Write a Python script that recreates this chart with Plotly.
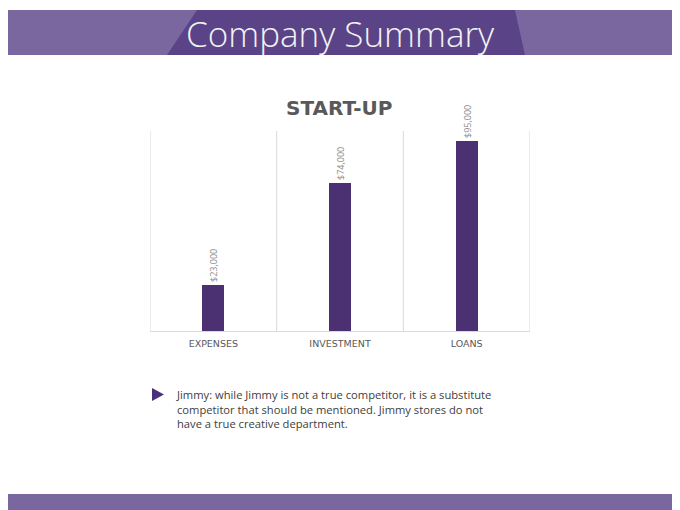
import plotly.graph_objects as go

# Start-up funding summary
CATEGORIES = ["EXPENSES", "INVESTMENT", "LOANS"]
VALUES = [23000, 74000, 95000]
Y_MAX = 100000

SLIDE_TITLE = "Company Summary"
CHART_TITLE = "START-UP"
NOTE = ("Jimmy: while Jimmy is not a true competitor, it is a substitute<br>"
        "competitor that should be mentioned. Jimmy stores do not<br>"
        "have a true creative department.")

W, H = 680, 510
OFF = 8  # the page sits 8px in from the window corner
# plot area in window pixels
L, R, T, B = 150, 530, 131, 331

BAND = "#7b67a0"
BAND_DARK = "#5b4387"
BAR = "#4b3172"
GRID = "#d9d9d9"


def px_x(px):
    return (px - L) / (R - L)


def px_y(py):
    return (B - py) / (B - T)


def path(points):
    pts = [f"{px_x(x):.4f},{px_y(y):.4f}" for x, y in points]
    return "M " + " L ".join(pts) + " Z"


fig = go.Figure()
fig.add_trace(go.Bar(
    x=CATEGORIES,
    y=VALUES,
    width=0.175,
    marker={"color": BAR, "line": {"width": 0}},
    text=[f"${v:,.0f}" for v in VALUES],
    textposition="outside",
    textangle=-90,
    constraintext="none",
    cliponaxis=False,
    textfont={"family": "Open Sans", "size": 9, "color": "#8c8c8c"},
    hoverinfo="skip",
))

shapes = [
    # header band + darker centre panel
    dict(type="rect", xref="paper", yref="paper",
         x0=px_x(-10), x1=px_x(W + 10), y0=px_y(55), y1=px_y(10),
         fillcolor=BAND, line_width=0, layer="below"),
    dict(type="path", xref="paper", yref="paper",
         path=path([(167, 55), (197, 10), (515, 10), (525, 55)]),
         fillcolor=BAND_DARK, line_width=0, layer="below"),
    # footer band
    dict(type="rect", xref="paper", yref="paper",
         x0=px_x(-10), x1=px_x(W + 10), y0=px_y(H + 10), y1=px_y(494),
         fillcolor=BAND, line_width=0, layer="below"),
    # bullet triangle
    dict(type="path", xref="paper", yref="paper",
         path=path([(152, 388), (152, 401), (164, 394.5)]),
         fillcolor="#4b2f7a", line_width=0),
]
# vertical separators between categories
for xb in [-0.5, 0.5, 1.5, 2.5]:
    shapes.append(dict(type="line", xref="x", yref="paper",
                       x0=xb, x1=xb, y0=0, y1=1,
                       line={"color": GRID, "width": 1}, layer="below"))

annotations = [
    dict(text=SLIDE_TITLE, xref="paper", yref="paper",
         x=px_x(340), y=px_y(33), xanchor="center", yanchor="middle",
         showarrow=False,
         font={"family": "Open Sans", "size": 35, "color": "#f2f2f2", "weight": 300}),
    dict(text=f"<b>{CHART_TITLE}</b>", xref="paper", yref="paper",
         x=px_x(339), y=px_y(108), xanchor="center", yanchor="middle",
         showarrow=False,
         font={"family": "DejaVu Sans", "size": 20, "color": "#595959"}),
    dict(text=NOTE, xref="paper", yref="paper",
         x=px_x(174), y=px_y(385), xanchor="left", yanchor="top",
         align="left", showarrow=False,
         font={"family": "Open Sans", "size": 11.2, "color": "#404040"}),
]

fig.update_layout(
    width=W, height=H,
    margin={"l": L - OFF, "r": W - R + OFF, "t": T - OFF, "b": H - B + OFF, "pad": 0},
    paper_bgcolor="white", plot_bgcolor="white",
    showlegend=False,
    shapes=shapes,
    annotations=annotations,
    bargap=0,
    xaxis={
        "type": "category",
        "range": [-0.5, 2.5],
        "showline": True, "linecolor": GRID, "linewidth": 1,
        "showgrid": False, "ticks": "",
        "tickfont": {"family": "DejaVu Sans", "size": 9.5, "color": "#595959"},
        "ticklabelstandoff": 4,
    },
    yaxis={
        "range": [0, Y_MAX],
        "visible": False,
        "showgrid": False,
        "zeroline": False,
    },
)

fig.write_html("out.html")
